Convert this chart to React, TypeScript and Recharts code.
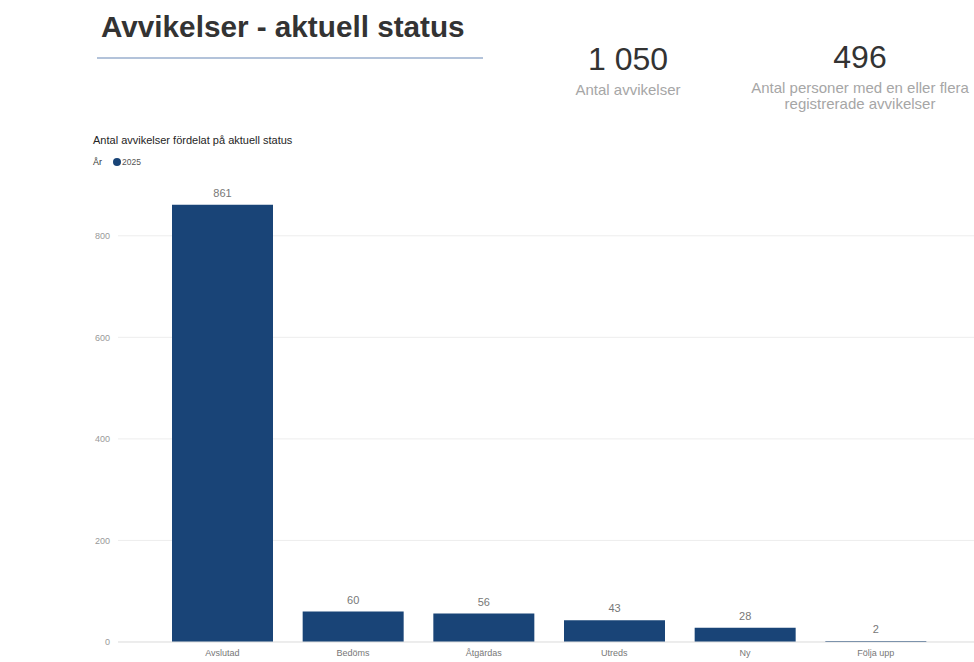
import React from "react";
import { BarChart, Bar, XAxis, YAxis, CartesianGrid, LabelList } from "recharts";

const categories = ["Avslutad", "Bedöms", "Åtgärdas", "Utreds", "Ny", "Följa upp"];
const values2025 = [861, 60, 56, 43, 28, 2];
const yTicks = [0, 200, 400, 600, 800];

const data = categories.map((c, i) => ({ name: c, v: values2025[i] }));

const FONT = '"Liberation Sans", Arial, sans-serif';

export default function App() {
  return (
    <div style={{ position: "absolute", left: 0, top: 0, width: 974, height: 662, background: "#fff", fontFamily: FONT, overflow: "hidden" }}>
      <div style={{ position: "absolute", left: 101, top: 10, fontSize: 29.7, fontWeight: "bold", color: "#333" }}>
        Avvikelser - aktuell status
      </div>
      <div style={{ position: "absolute", left: 97, top: 57, width: 386, height: 2, background: "#b3c3da" }} />
      <div style={{ position: "absolute", left: 528, top: 40, width: 200, textAlign: "center" }}>
        <div style={{ fontSize: 32, color: "#333", lineHeight: "38px" }}>1 050</div>
        <div style={{ fontSize: 15, color: "#a6a6a6", lineHeight: "17px", marginTop: 3 }}>Antal avvikelser</div>
      </div>
      <div style={{ position: "absolute", left: 740, top: 38, width: 240, textAlign: "center" }}>
        <div style={{ fontSize: 32, color: "#333", lineHeight: "38px" }}>496</div>
        <div style={{ fontSize: 15, color: "#a6a6a6", lineHeight: "16px", marginTop: 4 }}>
          Antal personer med en eller flera<br />registrerade avvikelser
        </div>
      </div>
      <div style={{ position: "absolute", left: 93, top: 134, fontSize: 11, color: "#252525" }}>
        Antal avvikelser fördelat på aktuell status
      </div>
      <div style={{ position: "absolute", left: 93, top: 157, fontSize: 9, color: "#333", display: "flex", alignItems: "center" }}>
        <span>År</span>
        <span style={{ display: "inline-block", width: 8, height: 8, borderRadius: 4, background: "#194477", marginLeft: 11, marginRight: 1 }} />
        <span style={{ color: "#555", fontSize: 8.5 }}>2025</span>
      </div>
      <div style={{ position: "absolute", left: 0, top: 170 }}>
        <BarChart width={974} height={492} data={data} margin={{ top: 15, right: 0, bottom: 0, left: 0 }} barSize={101}>
          <CartesianGrid horizontal={true} vertical={false} stroke="#ededed" syncWithTicks={true} />
          <XAxis
            dataKey="name"
            padding={{ left: 39, right: 33 }}
            tickLine={false}
            axisLine={{ stroke: "#e3e3e3" }}
            height={20}
            tick={{ fontSize: 9, fill: "#777", fontFamily: FONT }}
            interval={0}
          />
          <YAxis
            width={118}
            domain={[0, 900]}
            ticks={yTicks}
            axisLine={false}
            tickLine={false}
            tick={{ fontSize: 9, fill: "#999", fontFamily: FONT }}
          />
          <Bar dataKey="v" fill="#194477" isAnimationActive={false}>
            <LabelList dataKey="v" position="top" offset={8} style={{ fontSize: 11, fill: "#777", fontFamily: FONT }} />
          </Bar>
        </BarChart>
      </div>
    </div>
  );
}
